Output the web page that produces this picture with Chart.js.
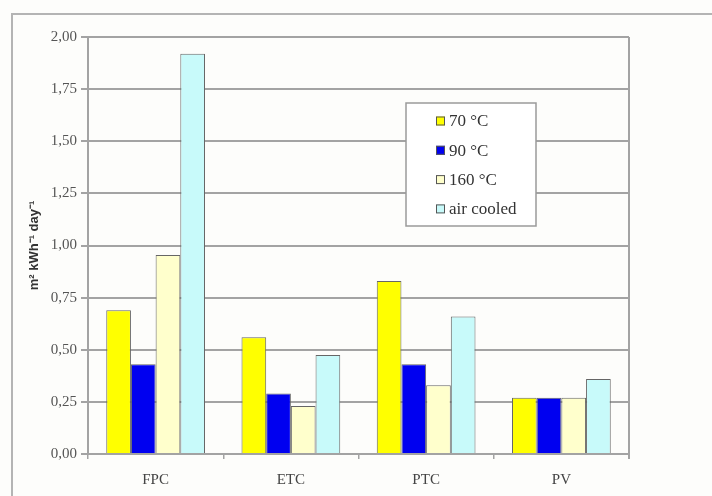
<!DOCTYPE html>
<html>
<head>
<meta charset="utf-8">
<script src="https://cdn.jsdelivr.net/npm/chart.js@4"></script>
<style>
  html, body { margin: 0; padding: 0; background: #fdfdfb; }
  #wrap { position: relative; width: 712px; height: 496px; }
</style>
</head>
<body>
<div id="wrap"><canvas id="chart" width="712" height="496"></canvas></div>
<script>
// collector types and bar values (m2 kWh-1 day-1)
const categories = ['FPC', 'ETC', 'PTC', 'PV'];
const seriesNames = ['70 °C', '90 °C', '160 °C', 'air cooled'];
const temp70 = [0.69, 0.56, 0.83, 0.27];
const temp90 = [0.43, 0.29, 0.43, 0.27];
const temp160 = [0.955, 0.23, 0.33, 0.27];
const airCooled = [1.92, 0.475, 0.66, 0.36];
const yTicks = [0, 0.25, 0.5, 0.75, 1, 1.25, 1.5, 1.75, 2];

const fills = ['#ffff00', '#0000f0', '#ffffcc', '#c8fafa'];
const GRID = '#a3a3a3';
const SERIF = '"Liberation Serif", "Times New Roman", serif';

// outer frame + right border of the plot + boxed legend inside the plot
const decor = {
  id: 'decor',
  beforeDraw(chart) {
    const ctx = chart.ctx;
    ctx.save();
    ctx.strokeStyle = '#b4b4b4';
    ctx.lineWidth = 2;
    ctx.strokeRect(12, 14, 760, 560);
    ctx.restore();
  },
  afterDatasetsDraw(chart) {
    const { ctx, chartArea } = chart;
    ctx.save();
    ctx.strokeStyle = GRID;
    ctx.lineWidth = 2;
    ctx.beginPath();
    ctx.moveTo(chartArea.right, chartArea.top);
    ctx.lineTo(chartArea.right, chartArea.bottom + 5);
    ctx.stroke();

    // legend
    const bx = 406, by = 103, bw = 130, bh = 123;
    ctx.fillStyle = '#ffffff';
    ctx.fillRect(bx, by, bw, bh);
    ctx.strokeStyle = '#9a9a9a';
    ctx.lineWidth = 1.5;
    ctx.strokeRect(bx, by, bw, bh);
    ctx.font = '17px ' + SERIF;
    ctx.textBaseline = 'middle';
    chart.data.datasets.forEach((ds, i) => {
      const cy = 121 + i * 29.3;
      ctx.fillStyle = ds.backgroundColor;
      ctx.fillRect(436, cy - 4.5, 9, 9);
      ctx.strokeStyle = '#555';
      ctx.lineWidth = 1;
      ctx.strokeRect(436.5, cy - 4, 8, 8);
      ctx.fillStyle = '#333';
      ctx.fillText(ds.label, 449, cy + 1);
    });
    ctx.restore();
  }
};

const series = [temp70, temp90, temp160, airCooled];

new Chart(document.getElementById('chart').getContext('2d'), {
  type: 'bar',
  data: {
    labels: categories,
    datasets: series.map((vals, i) => ({
      label: seriesNames[i],
      data: vals,
      backgroundColor: fills[i],
      borderColor: '#666',
      borderWidth: 1,
      categoryPercentage: 0.73,
      barPercentage: 1.0
    }))
  },
  options: {
    responsive: false,
    animation: false,
    layout: { padding: { left: 27, top: 37, right: 83, bottom: 0 } },
    plugins: {
      legend: { display: false },
      tooltip: { enabled: false }
    },
    scales: {
      x: {
        afterFit(scale) { scale.height = 42; },
        grid: {
          drawOnChartArea: false,
          drawTicks: true,
          tickLength: 5,
          color: GRID,
          lineWidth: 1.5
        },
        border: { display: true, color: GRID, width: 2 },
        ticks: {
          padding: 12,
          color: '#444',
          font: { family: SERIF, size: 15 }
        }
      },
      y: {
        min: 0,
        max: 2,
        afterFit(scale) { scale.width = 61; },
        afterBuildTicks(scale) { scale.ticks = yTicks.map(v => ({ value: v })); },
        grid: { color: GRID, lineWidth: 2, tickLength: 7 },
        border: { display: true, color: GRID, width: 2 },
        ticks: {
          padding: 4,
          color: '#555',
          font: { family: SERIF, size: 15 },
          callback: v => v.toFixed(2).replace('.', ',')
        },
        title: {
          display: true,
          text: 'm² kWh⁻¹ day⁻¹',
          color: '#333',
          padding: 0,
          font: { family: '"Liberation Sans", Arial, sans-serif', size: 13, weight: 'bold' }
        }
      }
    }
  },
  plugins: [decor]
});
</script>
</body>
</html>
